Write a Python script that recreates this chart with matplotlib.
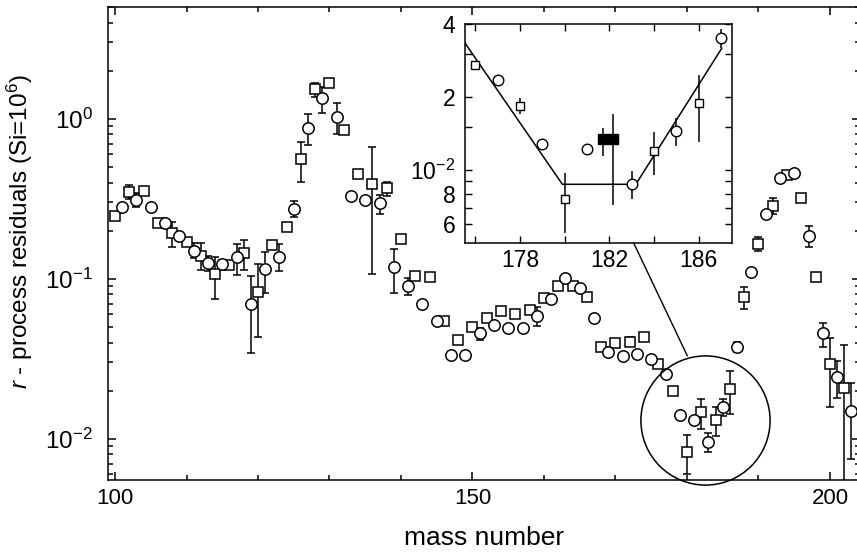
import matplotlib
matplotlib.use('Agg')
import matplotlib.pyplot as plt
from matplotlib.ticker import FixedLocator, NullFormatter, LogLocator, MultipleLocator, FuncFormatter, NullLocator
from matplotlib.patches import ConnectionPatch
import numpy as np

plt.rcParams['font.family'] = ['Liberation Sans', 'DejaVu Sans']
plt.rcParams['mathtext.fontset'] = 'custom'
plt.rcParams['mathtext.rm'] = 'Liberation Sans'
plt.rcParams['mathtext.it'] = 'Liberation Sans:italic'
plt.rcParams['mathtext.bf'] = 'Liberation Sans:bold'

# ---------------- main panel data ----------------
sq_mass = [100, 102, 104, 106, 108, 110, 112, 114, 116, 118, 120, 122, 124, 126, 128, 130,
           132, 134, 136, 138, 140, 142, 144, 146, 148, 150, 152, 154, 156, 158, 160, 162,
           164, 166, 168, 170, 172, 174, 176, 178, 180, 182, 184, 186, 188, 190, 192, 194,
           196, 198, 200, 202]
sq_val = [0.248, 0.349, 0.352, 0.224, 0.194, 0.171, 0.139, 0.107, 0.122, 0.146, 0.0832, 0.163,
          0.21, 0.561, 1.54, 1.67, 0.847, 0.452, 0.392, 0.37, 0.178, 0.104, 0.103, 0.0548,
          0.0417, 0.0502, 0.0566, 0.063, 0.06, 0.0638, 0.0762, 0.0902, 0.0902, 0.0767, 0.0373,
          0.04, 0.0404, 0.0431, 0.0292, 0.02, 0.0083, 0.0147, 0.0131, 0.0205, 0.0773, 0.165,
          0.286, 0.446, 0.318, 0.102, 0.0292, 0.0209]

ci_mass = [101, 103, 105, 107, 109, 111, 113, 115, 117, 119, 121, 123, 125, 127, 129, 131,
           133, 135, 137, 139, 141, 143, 145, 147, 149, 151, 153, 155, 157, 159, 161, 163,
           165, 167, 169, 171, 173, 175, 177, 179, 181, 183, 185, 187, 189, 191, 193, 195,
           197, 199, 201, 203]
ci_val = [0.281, 0.311, 0.28, 0.224, 0.185, 0.149, 0.125, 0.123, 0.136, 0.0697, 0.115, 0.137,
          0.273, 0.877, 1.34, 1.02, 0.33, 0.311, 0.297, 0.118, 0.0906, 0.0693, 0.0548, 0.0335,
          0.0334, 0.0456, 0.0515, 0.049, 0.049, 0.0586, 0.0748, 0.1007, 0.0873, 0.0566, 0.035,
          0.033, 0.0337, 0.0316, 0.0254, 0.0141, 0.0132, 0.0096, 0.0157, 0.0377, 0.11, 0.254,
          0.424, 0.461, 0.185, 0.0456, 0.0244, 0.0149]

eb_mass = [102, 103, 107, 108, 111, 112, 113, 114, 115, 117, 118, 119, 120, 121, 123, 125,
           126, 127, 128, 129, 131, 136, 137, 138, 139, 141, 151, 159, 172, 180, 182, 183,
           184, 185, 186, 187, 188, 190, 192, 196, 197, 199, 200, 201, 202, 203]
eb_lo = [0.316, 0.283, 0.21, 0.159, 0.134, 0.1135, 0.112, 0.0748, 0.1135, 0.106, 0.114, 0.0343,
         0.0431, 0.0813, 0.112, 0.244, 0.405, 0.685, 1.37, 1.08, 0.80, 0.107, 0.254, 0.33,
         0.0812, 0.0792, 0.0415, 0.0507, 0.038, 0.006, 0.0115, 0.0083, 0.0104, 0.0139, 0.0143,
         0.035, 0.0646, 0.15, 0.254, 0.30, 0.157, 0.0377, 0.0159, 0.0179, 0.005, 0.00745]
eb_hi = [0.386, 0.343, 0.238, 0.228, 0.167, 0.167, 0.139, 0.137, 0.132, 0.164, 0.175, 0.104,
         0.124, 0.148, 0.164, 0.308, 0.72, 1.07, 1.67, 1.59, 1.25, 0.664, 0.334, 0.401,
         0.153, 0.1007, 0.0496, 0.0664, 0.043, 0.01057, 0.0177, 0.0109, 0.0157, 0.0177, 0.0267,
         0.0405, 0.0893, 0.182, 0.318, 0.335, 0.214, 0.0527, 0.0425, 0.0308, 0.0385, 0.0222]

x_ticks = [100, 150, 200]
y_ticks = [1e-2, 1e-1, 1e0]

# highlighted region (circle) and connector end points
zoom_center = (182.5, 0.01303)
conn_inset = (183.1, 0.005)
conn_main = (180.05, 0.033)

# ---------------- inset data ----------------
in_sq_mass = [176, 178, 180, 184, 186]
in_sq_val = [0.0271, 0.0184, 0.0076, 0.012, 0.0189]
in_ci_mass = [177, 179, 181, 183, 185, 187]
in_ci_val = [0.0235, 0.0128, 0.0122, 0.0088, 0.0145, 0.035]
in_fill_mass = [181.72, 182.17]
in_fill_val = [0.0134, 0.0134]
in_eb_mass = [178, 180, 181.7, 182.16, 183, 184, 185, 186, 187]
in_eb_lo = [0.0171, 0.0055, 0.0114, 0.0072, 0.0076, 0.0096, 0.0126, 0.0131, 0.032]
in_eb_hi = [0.0198, 0.00975, 0.0149, 0.0171, 0.00996, 0.0144, 0.0164, 0.0247, 0.038]
in_line_x = [175.5, 179.9, 183.19, 187.04]
in_line_y = [0.0338, 0.00875, 0.00875, 0.0318]
in_x_ticks = [176, 178, 180, 182, 184, 186]
in_x_labels = {178: '178', 182: '182', 186: '186'}
in_y_ticks = [0.006, 0.007, 0.008, 0.009, 0.01, 0.015, 0.02, 0.03, 0.04]
in_y_labels = {0.006: '6', 0.008: '8', 0.01: r'$10^{-2}$', 0.02: '2', 0.04: '4'}

W, H = 857, 557
fig = plt.figure(figsize=(W / 100, H / 100), dpi=100)
fig.patch.set_facecolor('white')

ax = fig.add_axes([108 / W, 77 / H, 752 / W, 473 / H])
ax.set_yscale('log')
ax.set_xlim(99.02, 204.2)
ax.set_ylim(0.00553, 5)

lo = np.array(eb_lo)
hi = np.array(eb_hi)
ax.errorbar(eb_mass, lo, yerr=[np.zeros_like(lo), hi - lo], fmt='none', ecolor='black',
            elinewidth=1.1, capsize=3.2, capthick=1.1, zorder=2)
ax.plot(sq_mass, sq_val, 's', ms=7.6, mfc='white', mec='black', mew=1.1, zorder=3)
ax.plot(ci_mass, ci_val, 'o', ms=8.2, mfc='white', mec='black', mew=1.1, zorder=3)
ax.plot([zoom_center[0]], [zoom_center[1]], 'o', ms=93, mfc='none', mec='black', mew=1.1,
        clip_on=False, zorder=4)

ax.xaxis.set_major_locator(FixedLocator(x_ticks))
ax.xaxis.set_minor_locator(MultipleLocator(10))
ax.yaxis.set_major_locator(FixedLocator(y_ticks))
ax.yaxis.set_minor_locator(LogLocator(base=10, subs=np.arange(2, 10)))
ax.yaxis.set_minor_formatter(NullFormatter())
ax.tick_params(which='both', direction='in', top=True, right=True, width=1.1)
ax.tick_params(which='major', length=6)
ax.tick_params(which='minor', length=3.5)
ax.tick_params(axis='x', labelsize=16, pad=6)
ax.tick_params(axis='y', labelsize=17.5, pad=11)
for s in ax.spines.values():
    s.set_linewidth(1.1)
ax.set_xlabel('mass number', fontsize=19, labelpad=12)
ax.set_ylabel(r'$\it{r}$ - process residuals (Si=10$^{6}$)', fontsize=17.5)
ax.yaxis.set_label_coords(-0.097, 0.524)

# ---------------- inset ----------------
axins = fig.add_axes([465 / W, (H - 243.3) / H, 267.3 / W, 219.3 / H])
axins.set_yscale('log')
axins.set_xlim(175.54, 187.51)
axins.set_ylim(0.005, 0.04)
axins.plot(in_line_x, in_line_y, '-', color='black', lw=1.1, zorder=2)
axins.vlines(in_eb_mass, in_eb_lo, in_eb_hi, colors='black', lw=1.1, zorder=2)
axins.plot(in_sq_mass, in_sq_val, 's', ms=6.3, mfc='white', mec='black', mew=1.0, zorder=3)
axins.plot(in_ci_mass, in_ci_val, 'o', ms=7.6, mfc='white', mec='black', mew=1.0, zorder=3)
axins.plot(in_fill_mass, in_fill_val, 's', ms=7.3, color='black', zorder=3)
axins.xaxis.set_major_locator(FixedLocator(in_x_ticks))
axins.xaxis.set_major_formatter(FuncFormatter(lambda v, p: in_x_labels.get(int(round(v)), '')))
axins.xaxis.set_minor_locator(NullLocator())
axins.yaxis.set_major_locator(FixedLocator(in_y_ticks))
axins.yaxis.set_major_formatter(FuncFormatter(
    lambda v, p: next((t for k, t in in_y_labels.items() if abs(k - v) / v < 1e-6), '')))
axins.yaxis.set_minor_locator(NullLocator())
axins.tick_params(which='both', direction='in', top=True, right=True, length=5, width=1.0,
                  labelsize=16.5)
axins.tick_params(axis='x', pad=4)
axins.tick_params(axis='y', pad=7)
for s in axins.spines.values():
    s.set_linewidth(1.1)

con = ConnectionPatch(xyA=conn_inset, coordsA=axins.transData,
                      xyB=conn_main, coordsB=ax.transData, color='black', lw=1.0)
fig.add_artist(con)

fig.savefig('out.png', dpi=100)
